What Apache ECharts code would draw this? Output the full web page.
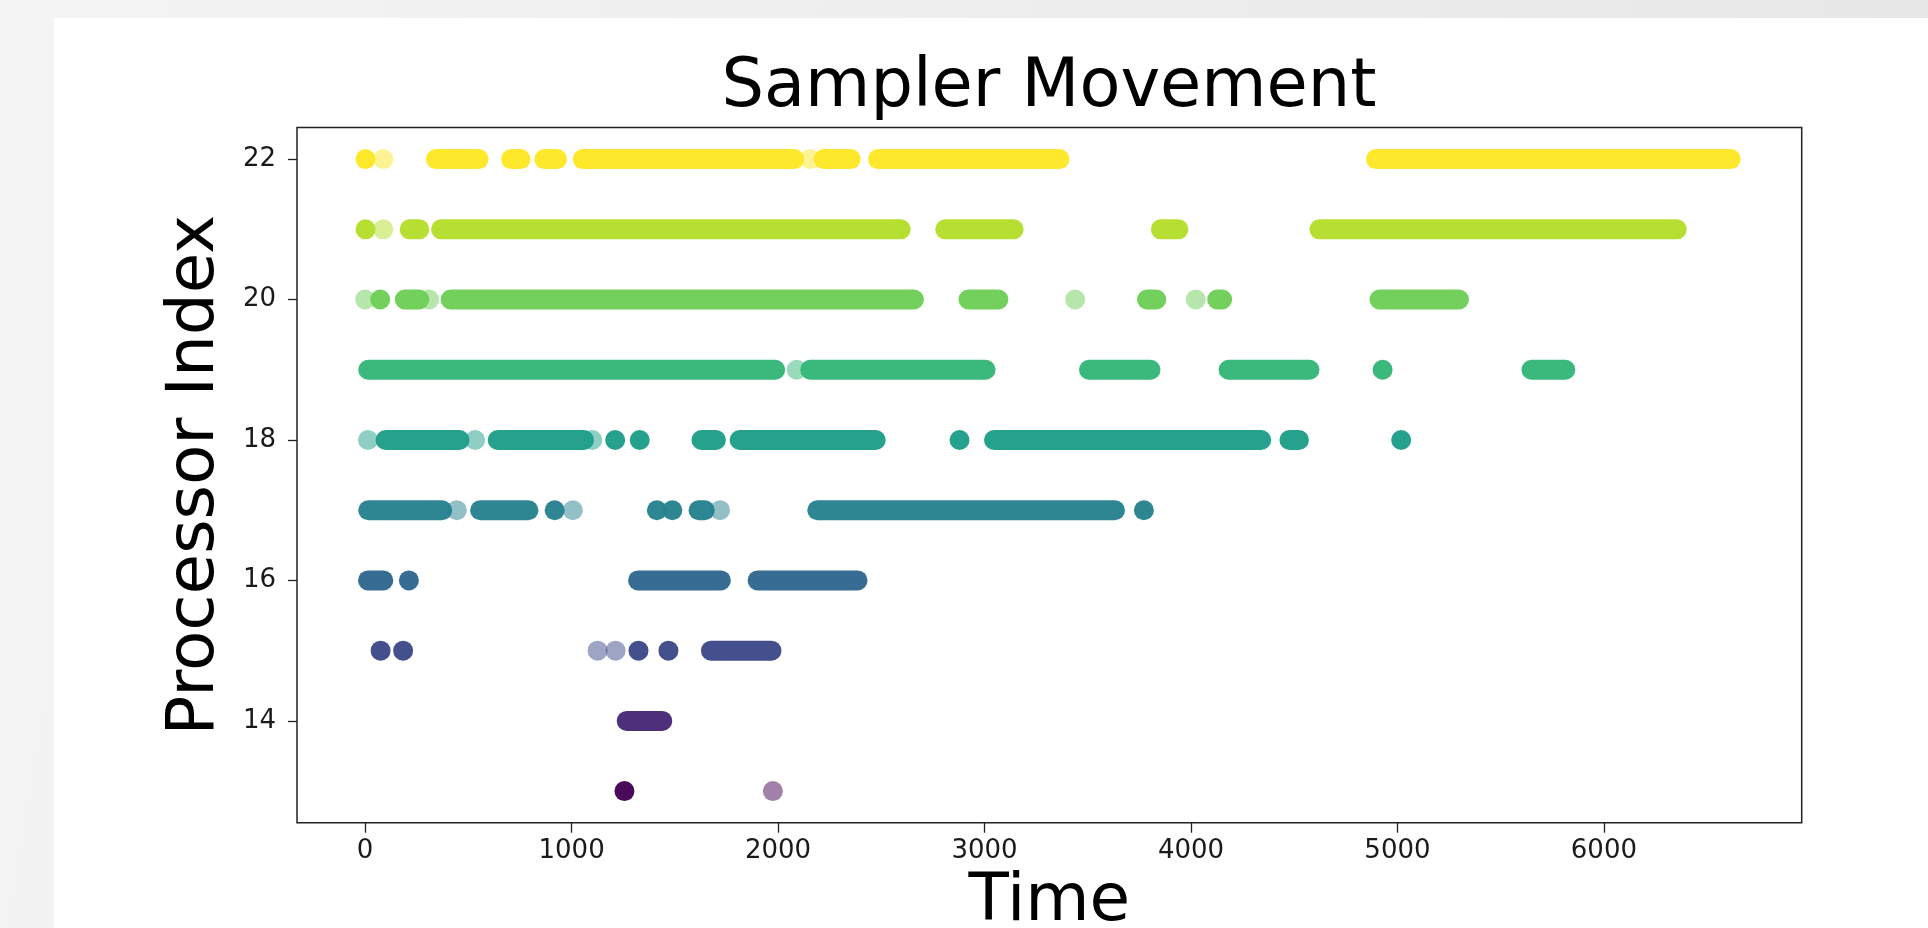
<!DOCTYPE html>
<html><head><meta charset="utf-8">
<script src="https://cdn.jsdelivr.net/npm/echarts@6/dist/echarts.min.js"></script>
<style>
html,body{margin:0;padding:0;width:1928px;height:928px;overflow:hidden;background:linear-gradient(100deg,#f4f4f4 0%,#ececec 60%,#e6e6e6 100%);}
#card{position:absolute;left:54px;top:18px;right:0;bottom:0;background:#ffffff;}
#chart{position:absolute;left:0;top:0;width:1928px;height:928px;}
</style></head><body><div id="card"></div><div id="chart"></div>
<script>
// Processor rows (y) and their viridis colours
const rows = [13, 14, 15, 16, 17, 18, 19, 20, 21, 22];
const rowColors = ['#440154', '#482878', '#3e4989', '#31688e', '#26828e', '#1f9e89', '#35b779', '#6ece58', '#b5de2b', '#fde725'];

// Tick labels
const xTicks = [0, 1000, 2000, 3000, 4000, 5000, 6000];
const yTicks = [14, 16, 18, 20, 22];

// Dense runs of samples [first time, last time] per processor
const runs13 = [[1256, 1256]];
const runs14 = [[1267, 1439]];
const runs15 = [[75, 75], [184, 184], [1324, 1324], [1469, 1469], [1675, 1968]];
const runs16 = [[14, 88], [212, 212], [1322, 1723], [1901, 2385]];
const runs17 = [[15, 373], [557, 791], [918, 918], [1413, 1413], [1488, 1488], [1615, 1645], [2190, 3632], [3772, 3772]];
const runs18 = [[99, 457], [642, 1060], [1211, 1211], [1330, 1330], [1629, 1699], [1814, 2473], [2879, 2879], [3046, 4340], [4477, 4523], [5018, 5018]];
const runs19 = [[15, 1986], [2156, 3005], [3506, 3804], [4182, 4574], [4928, 4928], [5649, 5813]];
const runs20 = [[73, 73], [192, 262], [414, 2658], [2922, 3067], [3787, 3832], [4127, 4151], [4913, 5298]];
const runs21 = [[2, 2], [216, 262], [368, 2594], [2810, 3141], [3854, 3939], [4622, 6353]];
const runs22 = [[2, 2], [343, 549], [707, 753], [868, 929], [1054, 2078], [2221, 2352], [2484, 3363], [4896, 6614]];

// Isolated single samples (drawn semi-transparent)
const faint13 = [1975];
const faint14 = [];
const faint15 = [1126, 1213];
const faint16 = [];
const faint17 = [444, 1006, 1719];
const faint18 = [14, 533, 1100];
const faint19 = [2090];
const faint20 = [0, 310, 3439, 4023];
const faint21 = [88];
const faint22 = [88, 2155];

const runsByRow = [runs13, runs14, runs15, runs16, runs17, runs18, runs19, runs20, runs21, runs22];
const faintByRow = [faint13, faint14, faint15, faint16, faint17, faint18, faint19, faint20, faint21, faint22];

const runData = [];
const faintData = [];
rows.forEach(function (r, i) {
  runsByRow[i].forEach(function (seg) { runData.push([seg[0], seg[1], r]); });
  faintByRow[i].forEach(function (t) { faintData.push([t, r]); });
});

const R = 10; // marker radius in px
const FONT = 'DejaVu Sans';

const chart = echarts.init(document.getElementById('chart'), null, {renderer: 'canvas'});
chart.setOption({
  animation: false,
  backgroundColor: 'transparent',
  title: {
    text: 'Sampler Movement',
    left: 1049,
    top: 55,
    textAlign: 'center',
    padding: 0,
    textStyle: {fontFamily: FONT, fontSize: 67, fontWeight: 'normal', color: '#000'}
  },
  grid: {
    left: 297, top: 127.5, width: 1504.7, height: 695.2,
    containLabel: false, outerBoundsMode: 'none',
    show: true, backgroundColor: '#fff', borderColor: '#222', borderWidth: 1.5
  },
  xAxis: {
    type: 'value', min: -330, max: 6958,
    name: 'Time', nameLocation: 'middle', nameGap: 46,
    nameTextStyle: {fontFamily: FONT, fontSize: 66, color: '#000'},
    axisLine: {show: false, onZero: false},
    splitLine: {show: false},
    axisTick: {show: true, length: 10, lineStyle: {color: '#222', width: 1.3}, customValues: xTicks},
    axisLabel: {margin: 16, fontFamily: FONT, fontSize: 26, color: '#1a1a1a', customValues: xTicks,
      formatter: function (v) { return String(v); }}
  },
  yAxis: {
    type: 'value', min: 12.55, max: 22.45,
    name: 'Processor Index', nameLocation: 'middle', nameGap: 68,
    nameTextStyle: {fontFamily: FONT, fontSize: 66, color: '#000'},
    axisLine: {show: false, onZero: false},
    splitLine: {show: false},
    axisTick: {show: true, length: 9, lineStyle: {color: '#222', width: 1.3}, customValues: yTicks},
    axisLabel: {margin: 21, fontFamily: FONT, fontSize: 26, color: '#1a1a1a', customValues: yTicks,
      formatter: function (v) { return String(v); }}
  },
  series: [
    {
      type: 'scatter',
      name: 'single samples',
      data: faintData,
      symbolSize: 2 * R,
      z: 2,
      itemStyle: {
        color: function (p) { return rowColors[rows.indexOf(p.value[1])]; },
        opacity: 0.5
      }
    },
    {
      type: 'custom',
      name: 'sample runs',
      data: runData,
      encode: {x: [0, 1], y: 2},
      clip: true,
      z: 3,
      renderItem: function (params, api) {
        const row = api.value(2);
        const p0 = api.coord([api.value(0), row]);
        const p1 = api.coord([api.value(1), row]);
        return {
          type: 'rect',
          shape: {x: p0[0] - R, y: p0[1] - R, width: p1[0] - p0[0] + 2 * R, height: 2 * R, r: R},
          style: {fill: rowColors[rows.indexOf(row)], opacity: 0.97}
        };
      }
    }
  ]
});
</script></body></html>
